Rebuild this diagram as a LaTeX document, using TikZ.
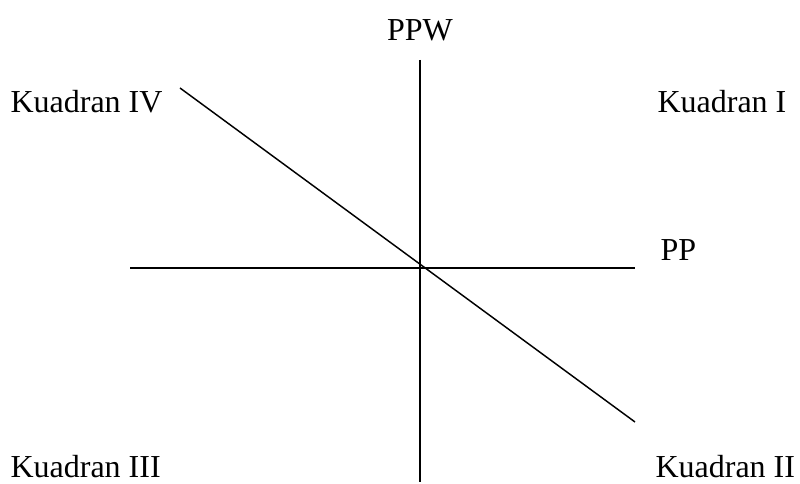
\documentclass[tikz,border=0pt]{standalone}
\usepackage{fontspec}
\setmainfont{Liberation Serif}

\begin{document}
\begin{tikzpicture}[
    x=0.375pt, y=-0.375pt,
    axis/.style={draw=black, line width=0.55pt},
    lbl/.style={font=\fontsize{12}{14}\selectfont, inner sep=0pt}
]
    \useasboundingbox (0,0) rectangle (800,484);

    % ---- axes ----
    \coordinate (ppwtop) at (420,60);
    \coordinate (ppwbot) at (420,482);
    \coordinate (ppleft) at (130,268);
    \coordinate (ppright) at (635,268);
    \draw[axis] (ppwtop) -- (ppwbot);
    \draw[axis] (ppleft) -- (ppright);

    % ---- diagonal ----
    \coordinate (diagtop) at (180,88);
    \coordinate (diagbot) at (635,422);
    \draw[axis] (diagtop) -- (diagbot);

    % ---- labels ----
    \node[lbl] (ppw) at (420,30) {PPW};
    \node[lbl, anchor=west] (pp) at (660,250) {PP};
    \node[lbl, anchor=west] (kiv) at (10,102) {Kuadran IV};
    \node[lbl, anchor=west] (ki) at (657,102) {Kuadran I};
    \node[lbl, anchor=west] (kiii) at (10,467) {Kuadran III};
    \node[lbl, anchor=west] (kii) at (655,467) {Kuadran II};
\end{tikzpicture}
\end{document}
